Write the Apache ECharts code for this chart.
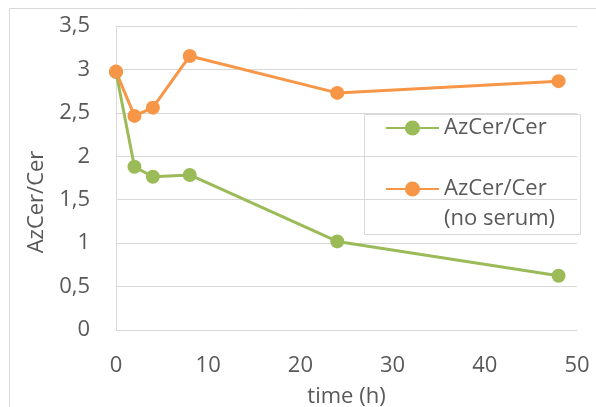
<!DOCTYPE html>
<html>
<head>
<meta charset="utf-8">
<script src="https://cdn.jsdelivr.net/npm/echarts@6/dist/echarts.min.js"></script>
<style>
html,body{margin:0;padding:0;background:#fff;}
#c{width:596px;height:407px;}
</style>
</head>
<body>
<div id="c"></div>
<script>
var timeH = [0, 2, 4, 8, 24, 48];
var azcerCer = [2.97, 1.88, 1.765, 1.785, 1.02, 0.625];
var azcerCerNoSerum = [2.975, 2.465, 2.56, 3.155, 2.73, 2.865];
var seriesNames = ['AzCer/Cer', 'AzCer/Cer (no serum)'];
var xTicks = [0, 10, 20, 30, 40, 50];
var yTicks = [0, 0.5, 1, 1.5, 2, 2.5, 3, 3.5];

function pairs(xs, ys) { return xs.map(function (x, i) { return [x, ys[i]]; }); }

var FONT = '"Open Sans", sans-serif';
var TXT = '#595959';
var GRID = '#d9d9d9';

var chart = echarts.init(document.getElementById('c'), null, {renderer: 'canvas'});
chart.setOption({
  animation: false,
  textStyle: {fontFamily: FONT, color: TXT},
  graphic: [
    {type: 'rect', shape: {x: 9.5, y: 8.5, width: 600, height: 410}, style: {fill: 'none', stroke: GRID, lineWidth: 1}, silent: true},
    {type: 'rect', shape: {x: 364.5, y: 114.5, width: 216, height: 120}, style: {fill: 'none', stroke: GRID, lineWidth: 1}, silent: true, z: 10}
  ],
  grid: {left: 116, right: 19, top: 26, bottom: 77, containLabel: false, outerBoundsMode: 'none'},
  legend: {
    orient: 'vertical',
    left: 385,
    top: 113,
    padding: 0,
    itemGap: 1,
    itemWidth: 53,
    itemHeight: 19,
    textStyle: {fontFamily: FONT, fontSize: 22, color: TXT, lineHeight: 30},
    data: [{name: seriesNames[0]}, {name: seriesNames[1]}],
    formatter: function (n) { return n === seriesNames[1] ? '\nAzCer/Cer\n(no serum)' : n; }
  },
  xAxis: {
    type: 'value',
    min: xTicks[0], max: xTicks[xTicks.length - 1], interval: 10,
    name: 'time (h)', nameLocation: 'middle', nameGap: 56,
    nameTextStyle: {fontFamily: FONT, fontSize: 22, color: TXT},
    axisLine: {show: true, lineStyle: {color: GRID, width: 1}},
    axisTick: {show: false},
    splitLine: {show: false},
    axisLabel: {fontFamily: FONT, fontSize: 22, color: TXT, margin: 25}
  },
  yAxis: {
    type: 'value',
    min: yTicks[0], max: yTicks[yTicks.length - 1], interval: 0.5,
    name: 'AzCer/Cer', nameLocation: 'middle', nameGap: 68,
    nameTextStyle: {fontFamily: FONT, fontSize: 22, color: TXT, padding: [0, 48, 0, 0]},
    axisLine: {show: true, lineStyle: {color: GRID, width: 1}},
    axisTick: {show: false},
    splitLine: {show: true, lineStyle: {color: GRID, width: 1}},
    axisLabel: {fontFamily: FONT, fontSize: 22, color: TXT, margin: 26,
      formatter: function (v) { return String(v).replace('.', ','); }}
  },
  series: [
    {
      name: seriesNames[0], type: 'line', data: pairs(timeH, azcerCer),
      symbol: 'circle', symbolSize: 14,
      lineStyle: {color: '#9BBB59', width: 3}, itemStyle: {color: '#9BBB59'}
    },
    {
      name: seriesNames[1], type: 'line', data: pairs(timeH, azcerCerNoSerum),
      symbol: 'circle', symbolSize: 14,
      lineStyle: {color: '#F79646', width: 3}, itemStyle: {color: '#F79646'}
    }
  ]
});
</script>
</body>
</html>
